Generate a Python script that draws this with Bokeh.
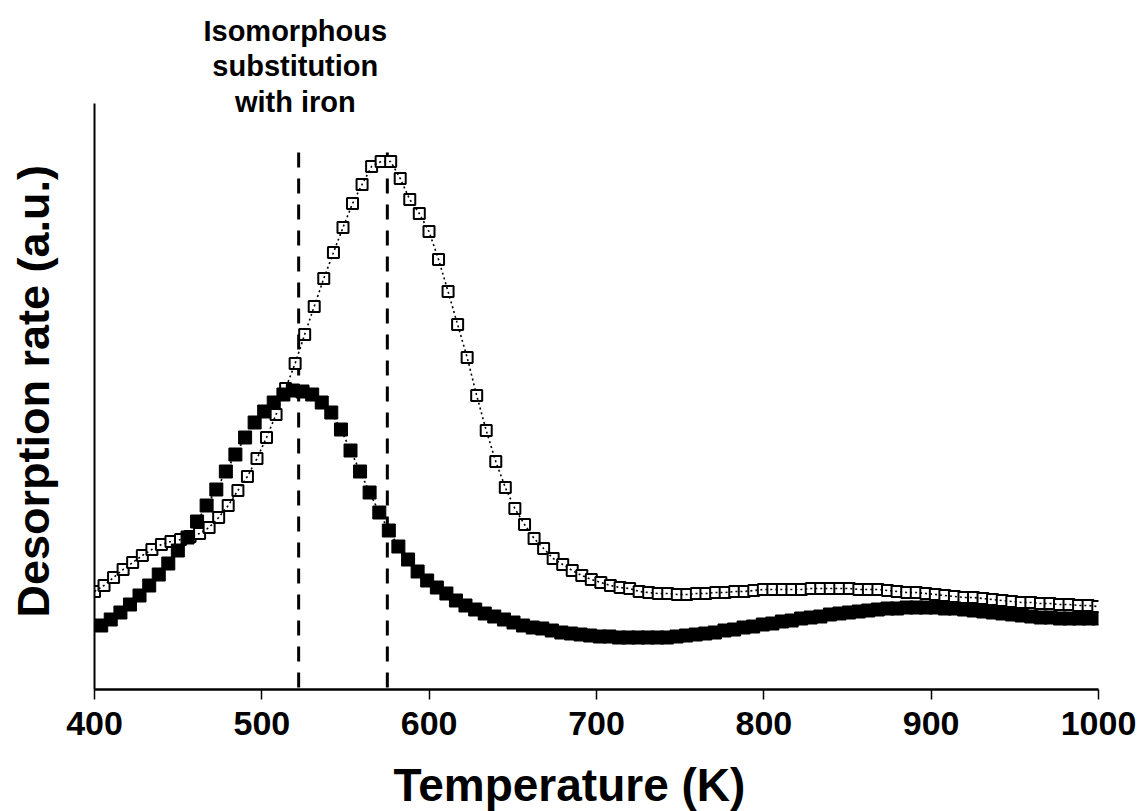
from bokeh.plotting import figure
from bokeh.models import Range1d, FixedTicker, Label, ColumnDataSource, Title
from bokeh.embed import file_html
from bokeh.resources import INLINE

# ---- data ----
temp_open = [400.0, 405.7, 411.4, 417.1, 422.8, 428.6, 434.3, 440.0, 445.7, 451.4,
             457.1, 462.8, 468.5, 474.2, 479.9, 485.7, 491.4, 497.1, 502.8, 508.5,
             514.2, 519.9, 525.6, 531.3, 537.0, 542.8, 548.5, 554.2, 559.9, 565.6,
             571.3, 577.0, 582.7, 588.4, 594.1, 599.9, 605.6, 611.3, 617.0, 622.7,
             628.4, 634.1, 639.8, 645.5, 651.2, 657.0, 662.7, 668.4, 674.1, 679.8,
             685.5, 691.2, 696.9, 702.6, 708.3, 714.1, 719.8, 725.5, 731.2, 736.9,
             742.6, 748.3, 754.0, 759.7, 765.4, 771.2, 776.9, 782.6, 788.3, 794.0,
             799.7, 805.4, 811.1, 816.8, 822.5, 828.3, 834.0, 839.7, 845.4, 851.1,
             856.8, 862.5, 868.2, 873.9, 879.6, 885.4, 891.1, 896.8, 902.5, 908.2,
             913.9, 919.6, 925.3, 931.0, 936.7, 942.5, 948.2, 953.9, 959.6, 965.3,
             971.0, 976.7, 982.4, 988.1, 993.8, 999.6]
rate_open = [98, 104, 112, 120, 127, 134, 140, 145, 148, 150,
             153, 156, 162, 172, 184, 199, 213, 231, 252, 275,
             301, 326, 355, 383, 411, 437, 462, 486, 505, 523,
             528, 528, 511, 490, 476, 458, 430, 398, 365, 332,
             294, 259, 228, 202, 181, 165, 151, 141, 131, 125,
             119, 114, 110, 107, 104, 102, 101, 98, 97, 96,
             96, 95, 95, 96, 96, 97, 97, 98, 98, 99,
             100, 100, 100, 100, 100, 101, 101, 101, 101, 101,
             100, 100, 100, 99, 98, 97, 97, 96, 95, 94,
             93, 92, 92, 91, 90, 89, 88, 87, 87, 86,
             86, 85, 85, 84, 84, 83]

temp_fe = [404.0, 409.7, 415.5, 421.2, 426.9, 432.7, 438.4, 444.1, 449.8, 455.6,
           461.3, 467.0, 472.8, 478.5, 484.2, 490.0, 495.7, 501.4, 507.1, 512.9,
           518.6, 524.3, 530.1, 535.8, 541.5, 547.3, 553.0, 558.7, 564.4, 570.2,
           575.9, 581.6, 587.4, 593.1, 598.8, 604.6, 610.3, 616.0, 621.7, 627.5,
           633.2, 638.9, 644.7, 650.4, 656.1, 661.9, 667.6, 673.3, 679.0, 684.8,
           690.5, 696.2, 702.0, 707.7, 713.4, 719.2, 724.9, 730.6, 736.3, 742.1,
           747.8, 753.5, 759.3, 765.0, 770.7, 776.5, 782.2, 787.9, 793.6, 799.4,
           805.1, 810.8, 816.6, 822.3, 828.0, 833.8, 839.5, 845.2, 850.9, 856.7,
           862.4, 868.1, 873.9, 879.6, 885.3, 891.1, 896.8, 902.5, 908.2, 914.0,
           919.7, 925.4, 931.2, 936.9, 942.6, 948.4, 954.1, 959.8, 965.5, 971.3,
           977.0, 982.7, 988.4, 994.2, 999.9]
rate_fe = [64, 70, 77, 85, 94, 104, 115, 126, 139, 152,
           168, 184, 200, 218, 235, 252, 267, 278, 287, 295,
           299, 298, 295, 287, 277, 260, 239, 218, 197, 177,
           159, 143, 130, 118, 109, 102, 96, 89, 84, 80,
           76, 73, 70, 67, 64, 62, 61, 59, 57, 56,
           55, 54, 53, 53, 52, 52, 52, 52, 52, 52,
           53, 54, 55, 56, 57, 59, 60, 62, 63, 65,
           66, 68, 69, 71, 72, 73, 75, 76, 77, 78,
           79, 80, 81, 81, 82, 82, 82, 82, 81, 81,
           80, 79, 78, 77, 76, 75, 74, 73, 72, 72,
           71, 71, 71, 71, 71]

peak_temps = [522, 575]
peak_line_top = [537, 537]
peak_line_bottom = [0, 0]
x_ticks = [400, 500, 600, 700, 800, 900, 1000]
y_axis_extent = (0, 586)
annotation_lines = ["Isomorphous", "substitution", "with iron"]
annotation_baselines = [659, 624, 588]
x_title = "Temperature (K)"
y_title = "Desorption rate (a.u.)"

FONT = "Liberation Sans"

p = figure(width=1138, height=811, output_backend="svg", toolbar_location=None,
           title_location=None,
           x_range=Range1d(400, 1000), y_range=Range1d(0, 689),
           min_border_left=94, min_border_right=40, min_border_top=0,
           min_border_bottom=122)
p.outline_line_color = None
p.xgrid.visible = False
p.ygrid.visible = False
p.background_fill_color = "white"
p.border_fill_color = "white"

# x axis
xa = p.xaxis[0]
xa.ticker = FixedTicker(ticks=x_ticks)
xa.axis_line_width = 2.5
xa.axis_line_color = "black"
xa.major_tick_out = 10
xa.major_tick_in = 0
xa.major_tick_line_width = 1.5
xa.minor_tick_line_color = None
xa.major_label_text_font = FONT
xa.major_label_text_font_style = "bold"
xa.major_label_text_font_size = "34px"
xa.major_label_text_color = "black"
xa.major_label_standoff = 12
xa.axis_label = " "
xa.axis_label_text_font_size = "10px"
xa.axis_label_standoff = 5

# y axis (line only, no ticks)
ya = p.yaxis[0]
ya.ticker = FixedTicker(ticks=[])
ya.bounds = y_axis_extent
ya.axis_line_width = 2
ya.axis_line_color = "black"
ya.major_tick_line_color = None
ya.minor_tick_line_color = None
ya.major_label_text_color = None
ya.axis_label = " "
ya.axis_label_text_font_size = "20px"
ya.axis_label_standoff = 6

# axis titles
p.add_layout(Title(text=y_title, align="left", offset=72,
                   text_font=FONT, text_font_style="bold", text_font_size="45px",
                   text_color="black", standoff=10), "left")
p.add_layout(Title(text=x_title, align="left", offset=299,
                   text_font=FONT, text_font_style="bold", text_font_size="46px",
                   text_color="black", standoff=0), "below")

src_open = ColumnDataSource(dict(x=temp_open, y=rate_open))
src_fe = ColumnDataSource(dict(x=temp_fe, y=rate_fe))

# dashed marker lines
p.segment(x0=peak_temps, y0=peak_line_top, x1=peak_temps, y1=peak_line_bottom,
          line_color="black", line_width=3, line_dash="15 11")

# markers
p.scatter("x", "y", source=src_open, marker="square", size=11,
          fill_color="white", line_color="black", line_width=2)
p.scatter("x", "y", source=src_fe, marker="square", size=13,
          fill_color="black", line_color="black", line_width=1)

# dotted connecting lines
p.line("x", "y", source=src_open, line_color="black", line_width=1.6, line_dash="2 3")
p.line("x", "y", source=src_fe, line_color="black", line_width=1.6, line_dash="2 3")

# annotation
for txt, yb in zip(annotation_lines, annotation_baselines):
    p.add_layout(Label(x=520, y=yb, text=txt, text_align="center",
                       text_baseline="alphabetic", text_font=FONT,
                       text_font_style="bold", text_font_size="29px",
                       text_color="black"))

open("out.html", "w").write(file_html(p, INLINE))
